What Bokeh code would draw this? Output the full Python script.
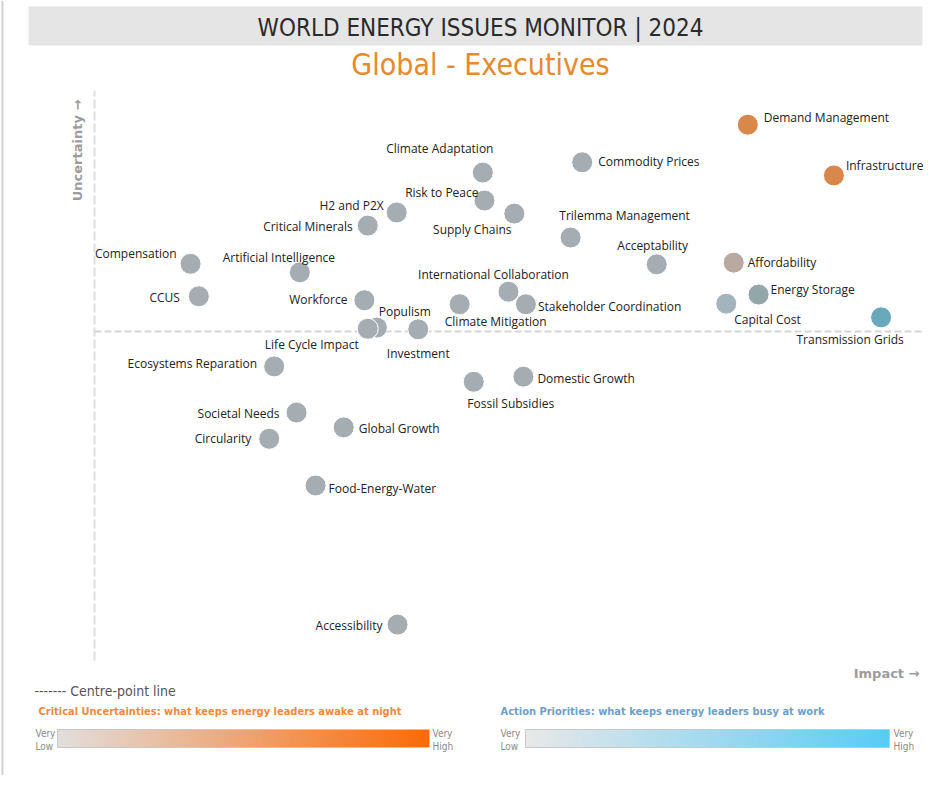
import math
from bokeh.plotting import figure
from bokeh.models import Range1d, Label, ColumnDataSource
from bokeh.core.properties import value
from bokeh.embed import file_html
from bokeh.resources import INLINE

# ---------------- data ----------------
issues = ["Demand Management", "Infrastructure", "Commodity Prices", "Climate Adaptation",
          "Risk to Peace", "H2 and P2X", "Supply Chains", "Critical Minerals",
          "Trilemma Management", "Acceptability", "Affordability", "Compensation",
          "Artificial Intelligence", "International Collaboration", "Energy Storage", "CCUS",
          "Workforce", "Stakeholder Coordination", "Capital Cost", "Climate Mitigation",
          "Populism", "Life Cycle Impact", "Investment", "Transmission Grids",
          "Ecosystems Reparation", "Fossil Subsidies", "Domestic Growth", "Societal Needs",
          "Circularity", "Global Growth", "Food-Energy-Water", "Accessibility"]
impact = [78.9, 89.3, 58.9, 46.9, 47.1, 36.5, 50.7, 33.0,
          57.5, 67.9, 77.2, 11.6, 24.8, 50.0, 80.2, 12.6,
          32.6, 52.1, 76.3, 44.1, 34.1, 33.0, 39.1, 95.0,
          21.7, 45.8, 51.8, 24.4, 21.1, 30.1, 26.7, 36.6]
uncertainty = [94.0, 85.1, 87.4, 85.6, 80.7, 78.6, 78.4, 76.3,
               74.2, 69.5, 69.8, 69.6, 68.1, 64.7, 64.2, 63.9,
               63.2, 62.5, 62.6, 62.5, 58.4, 58.2, 58.1, 60.2,
               51.6, 48.9, 49.8, 43.5, 38.9, 40.9, 30.7, 6.3]
centre_uncertainty = 57.7

# ---------------- styling ----------------
GREY = "#a6adb2"
point_colors = [GREY] * len(issues)
special = {"Demand Management": "#d9884b", "Infrastructure": "#d9884b",
           "Affordability": "#b8aaa0", "Energy Storage": "#93a6aa",
           "Capital Cost": "#a3b4bc", "Transmission Grids": "#6aa8bb"}
for i, n in enumerate(issues):
    if n in special:
        point_colors[i] = special[n]

# label placement: (align, dx, dy) in pixels, dy positive = down
label_place = {
    "Demand Management": ("left", 16, -7), "Infrastructure": ("left", 12, -10),
    "Commodity Prices": ("left", 16, -1), "Climate Adaptation": ("center", -43, -24),
    "Risk to Peace": ("right", -6, -8), "H2 and P2X": ("right", -13, -7),
    "Supply Chains": ("center", -42, 16), "Critical Minerals": ("right", -15, 1),
    "Trilemma Management": ("center", 54, -22), "Acceptability": ("center", -4, -19),
    "Affordability": ("left", 14, 0), "Compensation": ("right", -14, -10),
    "Artificial Intelligence": ("center", -21, -15),
    "International Collaboration": ("center", -15, -17),
    "Energy Storage": ("left", 12, -5), "CCUS": ("right", -19, 1),
    "Workforce": ("right", -17, -1), "Stakeholder Coordination": ("left", 12, 2),
    "Capital Cost": ("left", 8, 16), "Climate Mitigation": ("center", 36, 17),
    "Populism": ("center", 28, -16), "Life Cycle Impact": ("center", -56, 16),
    "Investment": ("center", 0, 24), "Transmission Grids": ("center", -31, 22),
    "Ecosystems Reparation": ("right", -17, -3), "Fossil Subsidies": ("center", 37, 22),
    "Domestic Growth": ("left", 14, 2), "Societal Needs": ("right", -17, 1),
    "Circularity": ("right", -18, 0), "Global Growth": ("left", 15, 1),
    "Food-Energy-Water": ("left", 13, 3), "Accessibility": ("right", -15, 1),
}

W, H = 926, 775
# pixel (reference image) -> data helpers for decorations
def X(px):
    return (px - 94) / 8.28

def Y(py):
    return (660 - py) / 5.7

p = figure(width=W, height=H, x_range=Range1d(X(0), X(W)), y_range=Range1d(Y(H), Y(0)),
           min_border=0, toolbar_location=None, output_backend="svg",
           x_axis_type=None, y_axis_type=None)
p.grid.visible = False
p.outline_line_color = None
p.background_fill_color = "white"
p.border_fill_color = "white"

NARROW = "DejaVu Sans Condensed"
SANS = "Open Sans"
BOLDF = "DejaVu Sans"

# page frame line on the left
p.segment(x0=[X(2)], y0=[Y(0)], x1=[X(2)], y1=[Y(H)], line_color="#d2d2d2", line_width=2)

# title bar
p.quad(left=X(28), right=X(922), top=Y(6), bottom=Y(45), fill_color="#e5e5e5", line_color=None)
p.add_layout(Label(x=X(480), y=Y(27), text="WORLD ENERGY ISSUES MONITOR | 2024", text_align="center",
                   text_baseline="middle", text_font=NARROW, text_font_size="24px", text_color="#2b2b2b"))
p.add_layout(Label(x=X(480), y=Y(64), text="Global - Executives", text_align="center",
                   text_baseline="middle", text_font=NARROW, text_font_size="30px", text_color="#e8892c"))

# axes lines (dashed)
p.segment(x0=[0], y0=[0], x1=[0], y1=[100], line_color="#dedede", line_width=2, line_dash="9 3")
p.segment(x0=[0], y0=[centre_uncertainty], x1=[100], y1=[centre_uncertainty],
          line_color="#d6d6d6", line_width=2, line_dash="7 3")

# axis titles
p.add_layout(Label(x=X(77), y=Y(150), text="Uncertainty \u2192", angle=math.pi / 2, text_align="center",
                   text_baseline="middle", text_font=BOLDF, text_font_style="bold",
                   text_font_size="13px", text_color="#9c9c9c"))
p.add_layout(Label(x=X(919), y=Y(673), text="Impact \u2192", text_align="right",
                   text_baseline="middle", text_font=BOLDF, text_font_style="bold",
                   text_font_size="13px", text_color="#9c9c9c"))

# points
src = ColumnDataSource(dict(x=impact, y=uncertainty, name=issues, color=point_colors))
p.scatter("x", "y", source=src, size=21, fill_color="color", line_color="white", line_width=1)

# labels
for align in ("left", "right", "center"):
    xs, ys, ts, dxs, dys = [], [], [], [], []
    for n, xv, yv in zip(issues, impact, uncertainty):
        a, dx, dy = label_place[n]
        if a == align:
            xs.append(xv); ys.append(yv); ts.append(n); dxs.append(dx); dys.append(dy)
    p.text(x=xs, y=ys, text=ts, x_offset=dxs, y_offset=dys, text_align=align,
           text_baseline="middle", text_font=value(SANS), text_font_size="12px", text_color="#222222")

# legend
p.add_layout(Label(x=X(34), y=Y(690), text="------- Centre-point line", text_align="left",
                   text_baseline="middle", text_font=NARROW, text_font_size="14px", text_color="#555555"))
p.add_layout(Label(x=X(38), y=Y(711), text="Critical Uncertainties: what keeps energy leaders awake at night",
                   text_align="left", text_baseline="middle", text_font=NARROW, text_font_style="bold",
                   text_font_size="11px", text_color="#f0893c"))
p.add_layout(Label(x=X(500), y=Y(711), text="Action Priorities: what keeps energy leaders busy at work",
                   text_align="left", text_baseline="middle", text_font=NARROW, text_font_style="bold",
                   text_font_size="11px", text_color="#6d9fc9"))

def hexrgb(h):
    h = h.lstrip("#")
    return tuple(int(h[i:i + 2], 16) for i in (0, 2, 4))

def gradient(px0, px1, c0, c1, n=120):
    r0, r1 = hexrgb(c0), hexrgb(c1)
    lefts, rights, cols = [], [], []
    for i in range(n):
        t = i / (n - 1)
        c = tuple(int(round(r0[k] + (r1[k] - r0[k]) * t)) for k in range(3))
        lefts.append(X(px0 + (px1 - px0) * i / n))
        rights.append(min(X(px0 + (px1 - px0) * (i + 1) / n) + 0.15, X(px1)))
        cols.append("#%02x%02x%02x" % c)
    p.quad(left=lefts, right=rights, top=Y(729), bottom=Y(747), fill_color=cols, line_color=None)
    p.quad(left=[X(px0)], right=[X(px1)], top=[Y(729)], bottom=[Y(747)], fill_color=None,
           line_color="#c8c8c8", line_width=1)

gradient(57, 429, "#e2dedc", "#fa6a08")
gradient(525, 889, "#e8e8e8", "#5acbf6")

for (px, lo) in ((35, "Low"), (432, "High"), (500, "Low"), (893, "High")):
    p.add_layout(Label(x=X(px), y=Y(733), text="Very", text_align="left", text_baseline="middle",
                       text_font=NARROW, text_font_size="10px", text_color="#8a8a8a"))
    p.add_layout(Label(x=X(px), y=Y(746), text=lo, text_align="left", text_baseline="middle",
                       text_font=NARROW, text_font_size="10px", text_color="#8a8a8a"))

open("out.html", "w").write(file_html(p, INLINE))
